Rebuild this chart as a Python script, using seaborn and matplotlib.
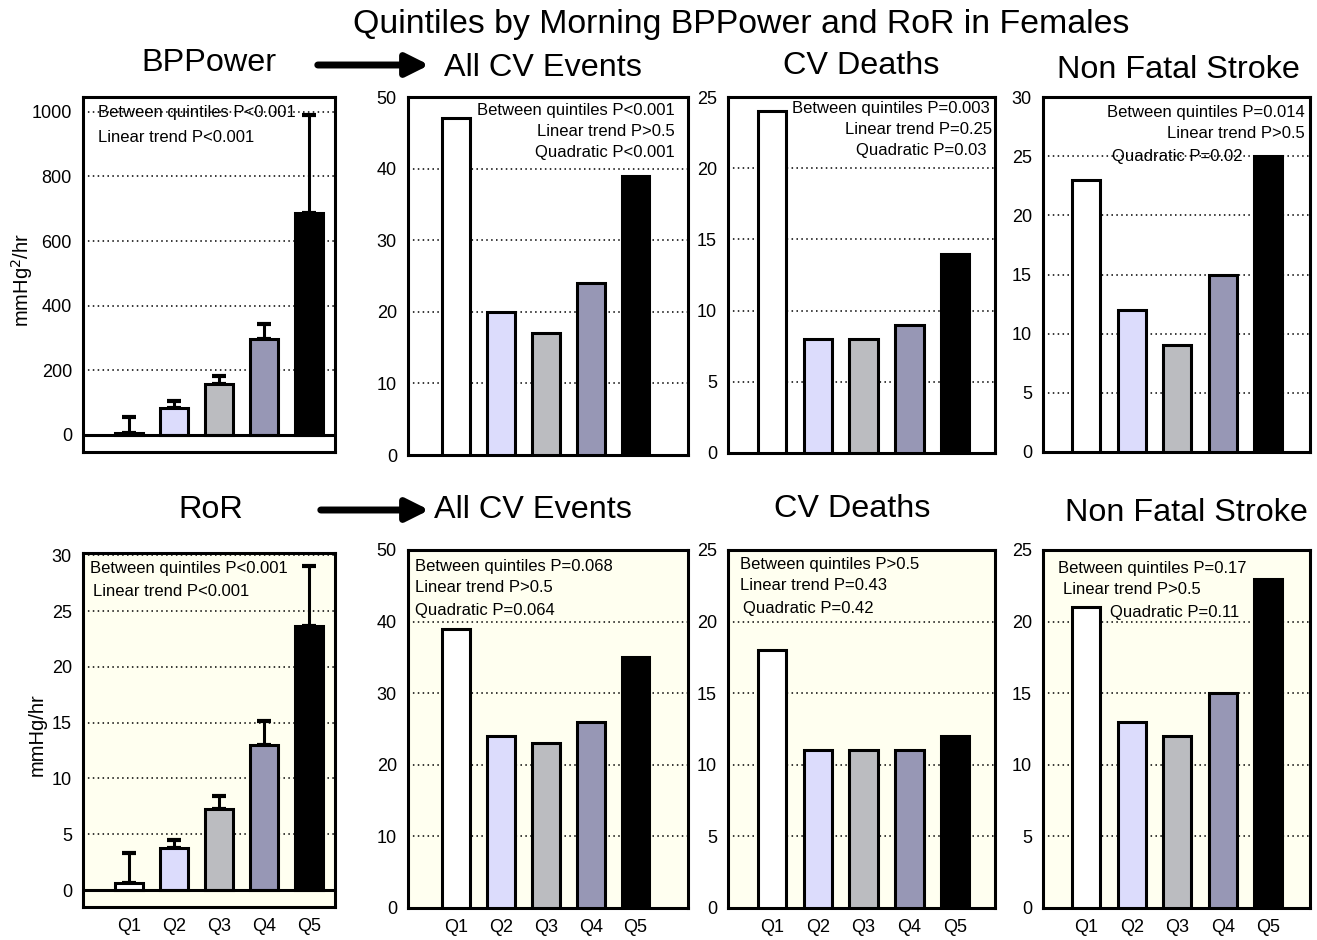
import numpy as np
import matplotlib
matplotlib.use("Agg")
import matplotlib.pyplot as plt
from matplotlib.patches import FancyArrowPatch
import seaborn as sns

# Data
quintiles = ["Q1", "Q2", "Q3", "Q4", "Q5"]
bar_colors = ["#FFFFFF", "#DCDCFC", "#BBBCC0", "#9797B5", "#000000"]

bppower_mean = [6, 84, 158, 296, 686]
bppower_upper = [56, 105, 183, 344, 990]
bp_all_cv = [47, 20, 17, 24, 39]
bp_cv_deaths = [24, 8, 8, 9, 14]
bp_stroke = [23, 12, 9, 15, 25]

ror_mean = [0.65, 3.75, 7.25, 13.0, 23.65]
ror_upper = [3.35, 4.45, 8.45, 15.15, 29.0]
ror_all_cv = [39, 24, 23, 26, 35]
ror_cv_deaths = [18, 11, 11, 11, 12]
ror_stroke = [21, 13, 12, 15, 23]

W, H = 1317, 940
sns.set_style("white")
plt.rcParams["font.family"] = ["Liberation Sans", "DejaVu Sans"]
plt.rcParams["text.color"] = "black"
plt.rcParams["axes.labelcolor"] = "black"
plt.rcParams["xtick.color"] = "black"
plt.rcParams["ytick.color"] = "black"

fig = plt.figure(figsize=(W / 100, H / 100), dpi=100)


def px(x, y):
    return x / W, 1 - y / H


def make_ax(l, r, t, b):
    return fig.add_axes([l / W, 1 - b / H, (r - l) / W, (b - t) / H])


def panel(ax, vals, ylim, yticks, xlim, bg, show_x, upper=None):
    ax.set_facecolor(bg)
    sns.barplot(x=quintiles, y=vals, hue=quintiles, palette=bar_colors,
                saturation=1, width=0.62, edgecolor="black", linewidth=2.2,
                legend=False, ax=ax, zorder=3)
    if upper is not None:
        vals_a = np.array(vals, dtype=float)
        up = np.array(upper, dtype=float) - vals_a
        ax.errorbar(range(5), vals_a, yerr=[np.zeros(5), up], fmt="none",
                    ecolor="black", elinewidth=2.2, capsize=5, capthick=3,
                    zorder=2)
        ax.axhline(0, color="black", linewidth=2.2, zorder=4)
    ax.set_ylim(*ylim)
    ax.set_xlim(*xlim)
    ax.set_yticks(yticks)
    ax.yaxis.grid(True, linestyle=(0, (1, 2.2)), color="black", linewidth=1.1)
    ax.set_axisbelow(True)
    ax.set_xlabel("")
    ax.set_ylabel("")
    for s in ax.spines.values():
        s.set_linewidth(2.2)
        s.set_color("black")
    ax.tick_params(axis="both", length=0, labelsize=13, pad=8,
                   labelcolor="black")
    if not show_x:
        ax.tick_params(axis="x", labelbottom=False)


white = "#FFFFFF"
ivory = "#FFFFF0"

# top row
ax1 = make_ax(83, 335, 97, 452)
panel(ax1, bppower_mean, (-53, 1046), range(0, 1001, 200), (-1.02, 4.58),
      white, False, bppower_upper)
ax1.set_ylabel("mmHg$^2$/hr", fontsize=14.5)
ax1.yaxis.set_label_coords(-0.19, 0.485)

ax2 = make_ax(408, 688, 97, 455)
panel(ax2, bp_all_cv, (0, 50), range(0, 51, 10), (-1.08, 5.17), white, False)
ax3 = make_ax(728, 995, 97, 453)
panel(ax3, bp_cv_deaths, (0, 25), range(0, 26, 5), (-0.96, 4.87), white, False)
ax4 = make_ax(1043, 1310, 97, 452)
panel(ax4, bp_stroke, (0, 30), range(0, 31, 5), (-0.95, 4.92), white, False)

# bottom row
ax5 = make_ax(83, 335, 553, 907)
panel(ax5, ror_mean, (-1.52, 30.2), range(0, 31, 5), (-1.02, 4.58),
      ivory, True, ror_upper)
ax5.set_ylabel("mmHg/hr", fontsize=14.5)
ax5.yaxis.set_label_coords(-0.143, 0.486)

ax6 = make_ax(408, 688, 550, 908)
panel(ax6, ror_all_cv, (0, 50), range(0, 51, 10), (-1.08, 5.17), ivory, True)
ax7 = make_ax(728, 995, 550, 908)
panel(ax7, ror_cv_deaths, (0, 25), range(0, 26, 5), (-0.96, 4.87), ivory, True)
ax8 = make_ax(1043, 1310, 550, 908)
panel(ax8, ror_stroke, (0, 25), range(0, 26, 5), (-0.95, 4.92), ivory, True)

# titles
fig.text(*px(741, 25), "Quintiles by Morning BPPower and RoR in Females",
         fontsize=24.4, ha="center", va="center")
for x, y, s in [(209, 63, "BPPower"), (543, 68, "All CV Events"),
                (861, 66, "CV Deaths"), (1178, 70, "Non Fatal Stroke"),
                (211, 510, "RoR"), (533, 510, "All CV Events"),
                (852, 509, "CV Deaths"), (1186, 513, "Non Fatal Stroke")]:
    fig.text(*px(x, y), s, fontsize=23.3, ha="center", va="center")

# arrows
for y, x0, x1 in [(65, 315, 432), (510, 318, 432)]:
    fig.add_artist(FancyArrowPatch(px(x0, y), px(x1, y),
                                   transform=fig.transFigure,
                                   arrowstyle="-|>", mutation_scale=34,
                                   linewidth=5, color="black",
                                   capstyle="round"))

# statistics annotations
notes = [
    (98, 112, "Between quintiles P<0.001", "left"),
    (98, 137, "Linear trend P<0.001", "left"),
    (675, 110, "Between quintiles P<0.001", "right"),
    (675, 131, "Linear trend P>0.5", "right"),
    (675, 153, "Quadratic P<0.001", "right"),
    (990, 108, "Between quintiles P=0.003", "right"),
    (992, 130, "Linear trend P=0.25", "right"),
    (987, 151, "Quadratic P=0.03", "right"),
    (1305, 112, "Between quintiles P=0.014", "right"),
    (1305, 133, "Linear trend P>0.5", "right"),
    (1112, 157, "Quadratic P=0.02", "left"),
    (90, 568, "Between quintiles P<0.001", "left"),
    (93, 592, "Linear trend P<0.001", "left"),
    (415, 567, "Between quintiles P=0.068", "left"),
    (415, 587, "Linear trend P>0.5", "left"),
    (415, 610, "Quadratic P=0.064", "left"),
    (740, 565, "Between quintiles P>0.5", "left"),
    (740, 586, "Linear trend P=0.43", "left"),
    (743, 608, "Quadratic P=0.42", "left"),
    (1058, 568, "Between quintiles P=0.17", "left"),
    (1063, 590, "Linear trend P>0.5", "left"),
    (1110, 612, "Quadratic P=0.11", "left"),
]
for x, y, s, ha in notes:
    fig.text(*px(x, y), s, fontsize=12, ha=ha, va="center", zorder=10)

fig.savefig("out.png", dpi=100)
